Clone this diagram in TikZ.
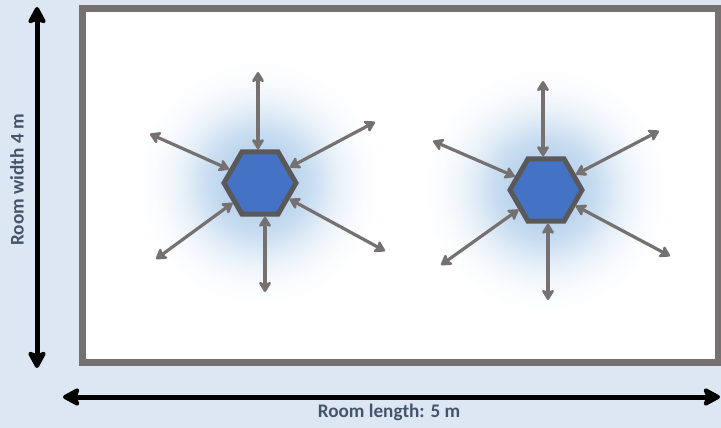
\documentclass[tikz,border=0pt]{standalone}
\usepackage{fontspec}
\setmainfont{Carlito}
\usetikzlibrary{arrows.meta,shapes.geometric}
\definecolor{bgblue}{RGB}{221,231,243}
\definecolor{wallgray}{RGB}{118,113,113}
\definecolor{raygray}{RGB}{118,113,113}
\definecolor{lampblue}{RGB}{68,114,196}
\definecolor{lampedge}{RGB}{89,89,89}
\definecolor{glowblue}{RGB}{188,213,237}
\definecolor{labelgray}{RGB}{68,84,106}

\begin{document}
\begin{tikzpicture}[x=0.75pt,y=-0.75pt,
    wall/.style={draw=wallgray,fill=white,line width=5.25pt},
    lamp/.style={regular polygon,regular polygon sides=6,minimum size=54pt,inner sep=0pt,fill=lampblue,draw=lampedge,line width=3.75pt},
    ray/.style={draw=raygray,line width=2.4pt,{Stealth[length=9pt,width=11pt,inset=2pt,round]}-{Stealth[length=9pt,width=11pt,inset=2pt,round]}},
    dim/.style={line width=3.75pt,{Stealth[length=15pt,width=16pt,inset=3pt,round]}-{Stealth[length=15pt,width=16pt,inset=3pt,round]}},
    dimtext/.style={font=\bfseries\fontsize{14.4}{17}\selectfont,text=labelgray}]
        \useasboundingbox[fill=bgblue] (0,0) rectangle (721,428);
        \draw[wall] (82,8.5) rectangle (718.5,362.5);
        \coordinate (cA) at (260,183);
        \coordinate (cB) at (546,190);
        \foreach \c in {cA,cB}
            \foreach \r in {120,118,...,30}{
                \pgfmathtruncatemacro\p{100*exp(-((\r-30)/48)^2)}
                \fill[glowblue!\p!white] (\c) circle (\r);
            }
        \node[lamp] (lampA) at (cA) {};
        \node[lamp] (lampB) at (cB) {};
        \foreach \n/\x/\y in {a1/258/72,a2/265/292,a3/150/134,a4/375/122,a5/156/259,a6/385/251}
            \coordinate (\n) at (\x,\y);
        \foreach \n/\x/\y in {b1/543/81,b2/548/300,b3/433/141,b4/659/131,b5/441/265,b6/670/256}
            \coordinate (\n) at (\x,\y);
        \draw[ray] (a1) -- (a1 |- lampA.north);
        \draw[ray] (a2) -- (a2 |- lampA.south);
        \foreach \n in {a3,a4,a5,a6}
            \draw[ray] (\n) -- (lampA);
        \draw[ray] (b1) -- (b1 |- lampB.north);
        \draw[ray] (b2) -- (b2 |- lampB.south);
        \foreach \n in {b3,b4,b5,b6}
            \draw[ray] (\n) -- (lampB);
        \coordinate (wtop) at (37,7);
        \coordinate (wbot) at (37,368);
        \draw[dim] (wtop) -- (wbot);
        \coordinate (lleft) at (63,397);
        \coordinate (lright) at (720,397);
        \draw[dim] (lleft) -- (lright);
        \node[dimtext,rotate=90] (widthlabel) at (17,180) {Room width 4 m};
        \node[dimtext] (lengthlabel) at (389,412) {Room length: 5 m};
    \end{tikzpicture}
\end{document}
